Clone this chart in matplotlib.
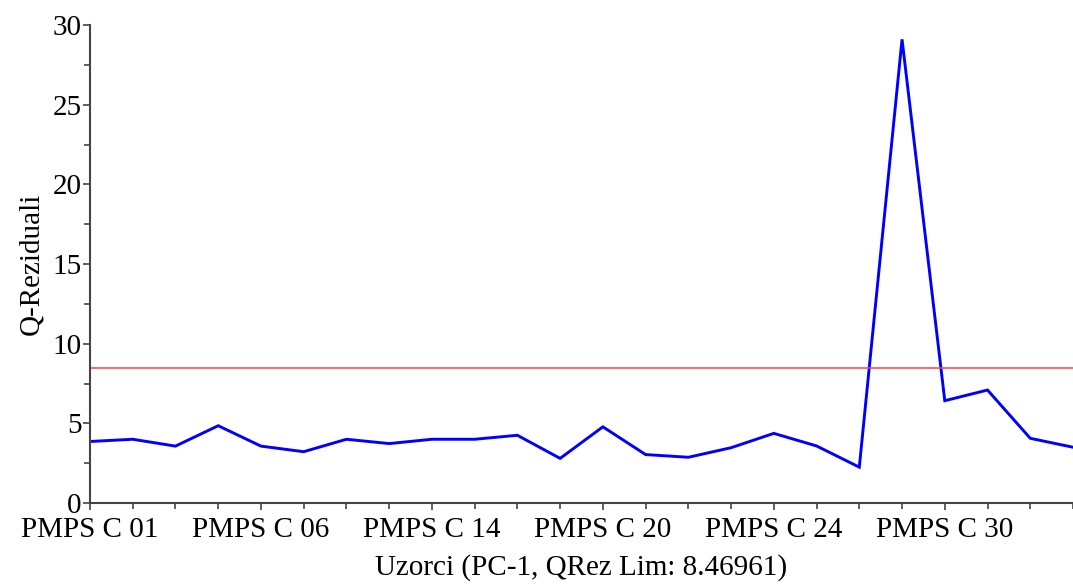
import matplotlib
matplotlib.use("Agg")
import matplotlib.pyplot as plt
import numpy as np

plt.rcParams["font.family"] = ["Liberation Serif", "DejaVu Serif"]

# Q residuals per sample
q_residuals = [3.86, 4.0, 3.57, 4.85, 3.57, 3.22, 4.0, 3.73, 4.0, 4.0, 4.25, 2.8,
               4.78, 3.04, 2.87, 3.47, 4.37, 3.58, 2.25, 29.1, 6.42, 7.09, 4.06, 3.5]
label_positions = [0, 4, 8, 12, 16, 20]
label_names = ["PMPS C 01", "PMPS C 06", "PMPS C 14", "PMPS C 20", "PMPS C 24", "PMPS C 30"]
q_limit = 8.46961

fig = plt.figure(figsize=(10.73, 5.86), dpi=100)
ax = fig.add_axes([90 / 1073, 83 / 586, 1 - 90 / 1073, 478 / 586])

x = np.arange(len(q_residuals))
ax.plot(x, q_residuals, color="#0000ff", lw=2.1, solid_joinstyle="miter")
ax.axhline(q_limit, color="#ff4040", lw=1.1)

ax.set_xlim(0, 22.8)
ax.set_ylim(0, 30)
ax.set_xticks(x, minor=True)
ax.set_xticks(label_positions)
ax.set_xticklabels(label_names)
ax.set_yticks(np.arange(0, 31, 5))
ax.set_yticks(np.arange(0, 30.1, 2.5), minor=True)

for side in ("top", "right"):
    ax.spines[side].set_visible(False)
for side in ("left", "bottom"):
    ax.spines[side].set_color("#444444")
    ax.spines[side].set_linewidth(1.5)

ax.tick_params(which="both", direction="out", color="#444444", width=1.2)
ax.tick_params(which="major", length=5, labelsize=21, pad=1)
ax.tick_params(axis="x", which="major", pad=5)
ax.tick_params(which="minor", length=4)

ax.set_xlabel("Uzorci (PC-1, QRez Lim: 8.46961)", fontsize=21, labelpad=8)
ax.set_ylabel("Q-Reziduali", fontsize=21, labelpad=6)

fig.savefig("out.png", dpi=100)
plt.close(fig)
